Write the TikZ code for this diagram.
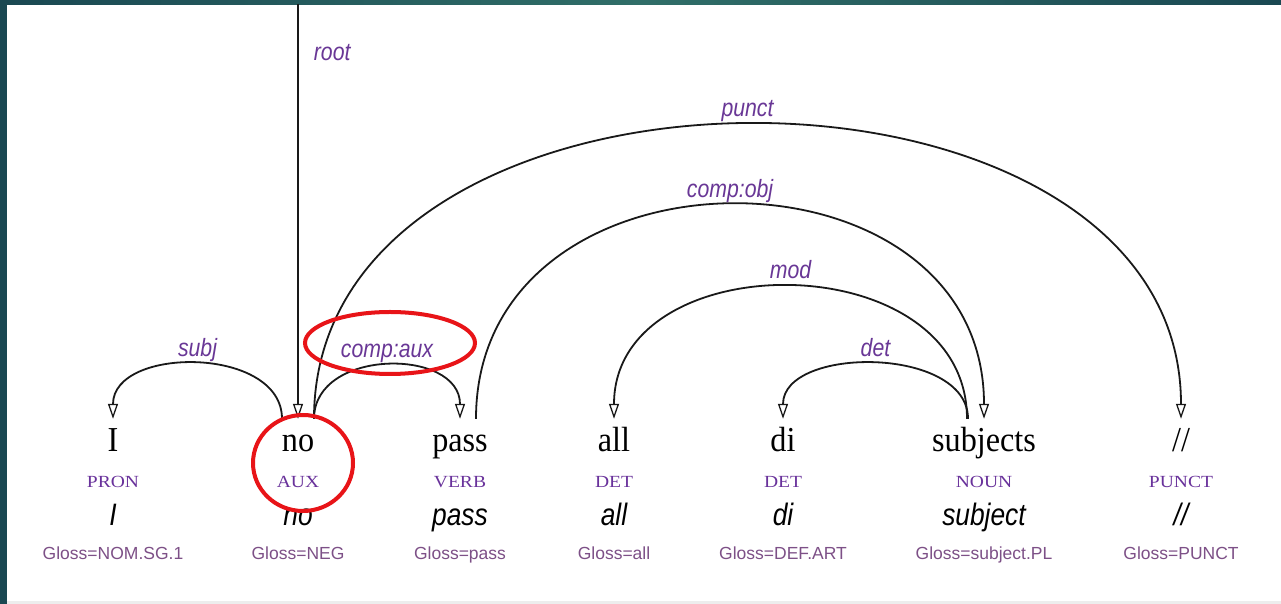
\documentclass[tikz,border=0pt]{standalone}
\usepackage{fontspec}
\setmainfont{Liberation Serif}
\setsansfont{Liberation Sans}
\newfontfamily\wordfont[FakeStretch=0.92]{Liberation Serif}
\newfontfamily\posfont[FakeStretch=1.15]{Liberation Serif}
\newfontfamily\relfont[FakeStretch=0.85]{Liberation Sans}
\newfontfamily\glossfont{Liberation Sans}
\usepackage{xcolor}
\usetikzlibrary{arrows.meta}

\definecolor{relpurple}{RGB}{105,55,150}
\definecolor{pospurple}{RGB}{105,50,155}
\definecolor{glossgrey}{RGB}{125,80,135}
\definecolor{frameteal}{RGB}{26,72,82}
\definecolor{frametealmid}{RGB}{48,110,104}
\definecolor{markred}{RGB}{232,20,24}

\begin{document}
\begin{tikzpicture}[x=1pt, y=1pt,
  word/.style={anchor=base, font=\wordfont\fontsize{35}{42}\selectfont, text height=24pt, inner xsep=0pt, inner ysep=9pt},
  postag/.style={anchor=base, font=\posfont\fontsize{17}{20}\selectfont, text=pospurple, inner sep=0pt},
  lemma/.style={anchor=base, font=\relfont\itshape\fontsize{31}{36}\selectfont, inner sep=0pt},
  gloss/.style={anchor=base, font=\glossfont\fontsize{17.5}{21}\selectfont, text=glossgrey, inner sep=0pt},
  rel/.style={font=\relfont\itshape\fontsize{25}{30}\selectfont, text=relpurple, inner sep=0pt},
  arclabel/.style={rel, midway, anchor=base, yshift=8pt},
  dep/.style={draw=black!90, line width=1.8pt, -{Triangle[open, length=15pt, width=10pt, line width=1.3pt]}},
  redring/.style={draw=markred, line width=4pt}]
  % Frame of the screenshot
  \useasboundingbox (0,0) rectangle (1281,604);
  \fill[white] (0,0) rectangle (1281,604);
  \shade[left color=frameteal, right color=frameteal, middle color=frametealmid] (0,599) rectangle (1281,604);
  \fill[frameteal] (0,0) rectangle (7,604);
  \fill[black!7] (7,0) rectangle (1281,3);

  % Tokens
  \node[word] (I) at (113,152) {I};
  \node[word] (no) at (298,152) {no};
  \node[word] (pass) at (460,152) {pass};
  \node[word] (all) at (614,152) {all};
  \node[word] (di) at (783,152) {di};
  \node[word] (subjects) at (984,152) {subjects};
  \node[word] (slash) at (1181,152) {//};

  % Part of speech
  \node[postag] (I-pos) at (113,116) {PRON};
  \node[postag] (no-pos) at (298,116) {AUX};
  \node[postag] (pass-pos) at (460,116) {VERB};
  \node[postag] (all-pos) at (614,116) {DET};
  \node[postag] (di-pos) at (783,116) {DET};
  \node[postag] (subjects-pos) at (984,116) {NOUN};
  \node[postag] (slash-pos) at (1181,116) {PUNCT};

  % Lemmas
  \node[lemma] (I-lem) at (113,78) {I};
  \node[lemma] (no-lem) at (298,78) {no};
  \node[lemma] (pass-lem) at (460,78) {pass};
  \node[lemma] (all-lem) at (614,78) {all};
  \node[lemma] (di-lem) at (783,78) {di};
  \node[lemma] (subjects-lem) at (984,78) {subject};
  \node[lemma] (slash-lem) at (1181,78) {//};

  % Glosses
  \node[gloss] (I-gl) at (113,44) {Gloss=NOM.SG.1};
  \node[gloss] (no-gl) at (298,44) {Gloss=NEG};
  \node[gloss] (pass-gl) at (460,44) {Gloss=pass};
  \node[gloss] (all-gl) at (614,44) {Gloss=all};
  \node[gloss] (di-gl) at (783,44) {Gloss=DEF.ART};
  \node[gloss] (subjects-gl) at (984,44) {Gloss=subject.PL};
  \node[gloss] (slash-gl) at (1181,44) {Gloss=PUNCT};

  % Dependency arcs
  \coordinate (roottop) at (298,600);
  \draw[dep] (roottop) -- (no.north) node[rel, pos=0.116, anchor=west, xshift=15pt] {root};
  \draw[dep] ([xshift=-16pt]no.north) .. controls +(0,73) and +(0,73) .. (I.north) node[arclabel] {subj};
  \draw[dep] ([xshift=16pt]no.north) .. controls +(0,71) and +(0,71) .. (pass.north) node[arclabel] {comp:aux};
  \draw[dep] ([xshift=16pt]no.north) .. controls +(0,392) and +(0,392) .. (slash.north) node[arclabel] {punct};
  \draw[dep] ([xshift=16pt]pass.north) .. controls +(0,285) and +(0,285) .. (subjects.north) node[arclabel] {comp:obj};
  \draw[dep] ([xshift=-17pt]subjects.north) .. controls +(0,176) and +(0,176) .. (all.north) node[arclabel] {mod};
  \draw[dep] ([xshift=-16pt]subjects.north) .. controls +(0,73) and +(0,73) .. (di.north) node[arclabel] {det};

  % Red marks
  \draw[redring] (390,261) ellipse (85 and 31);
  \draw[redring] (303,141) ellipse (50 and 48);
\end{tikzpicture}
\end{document}
